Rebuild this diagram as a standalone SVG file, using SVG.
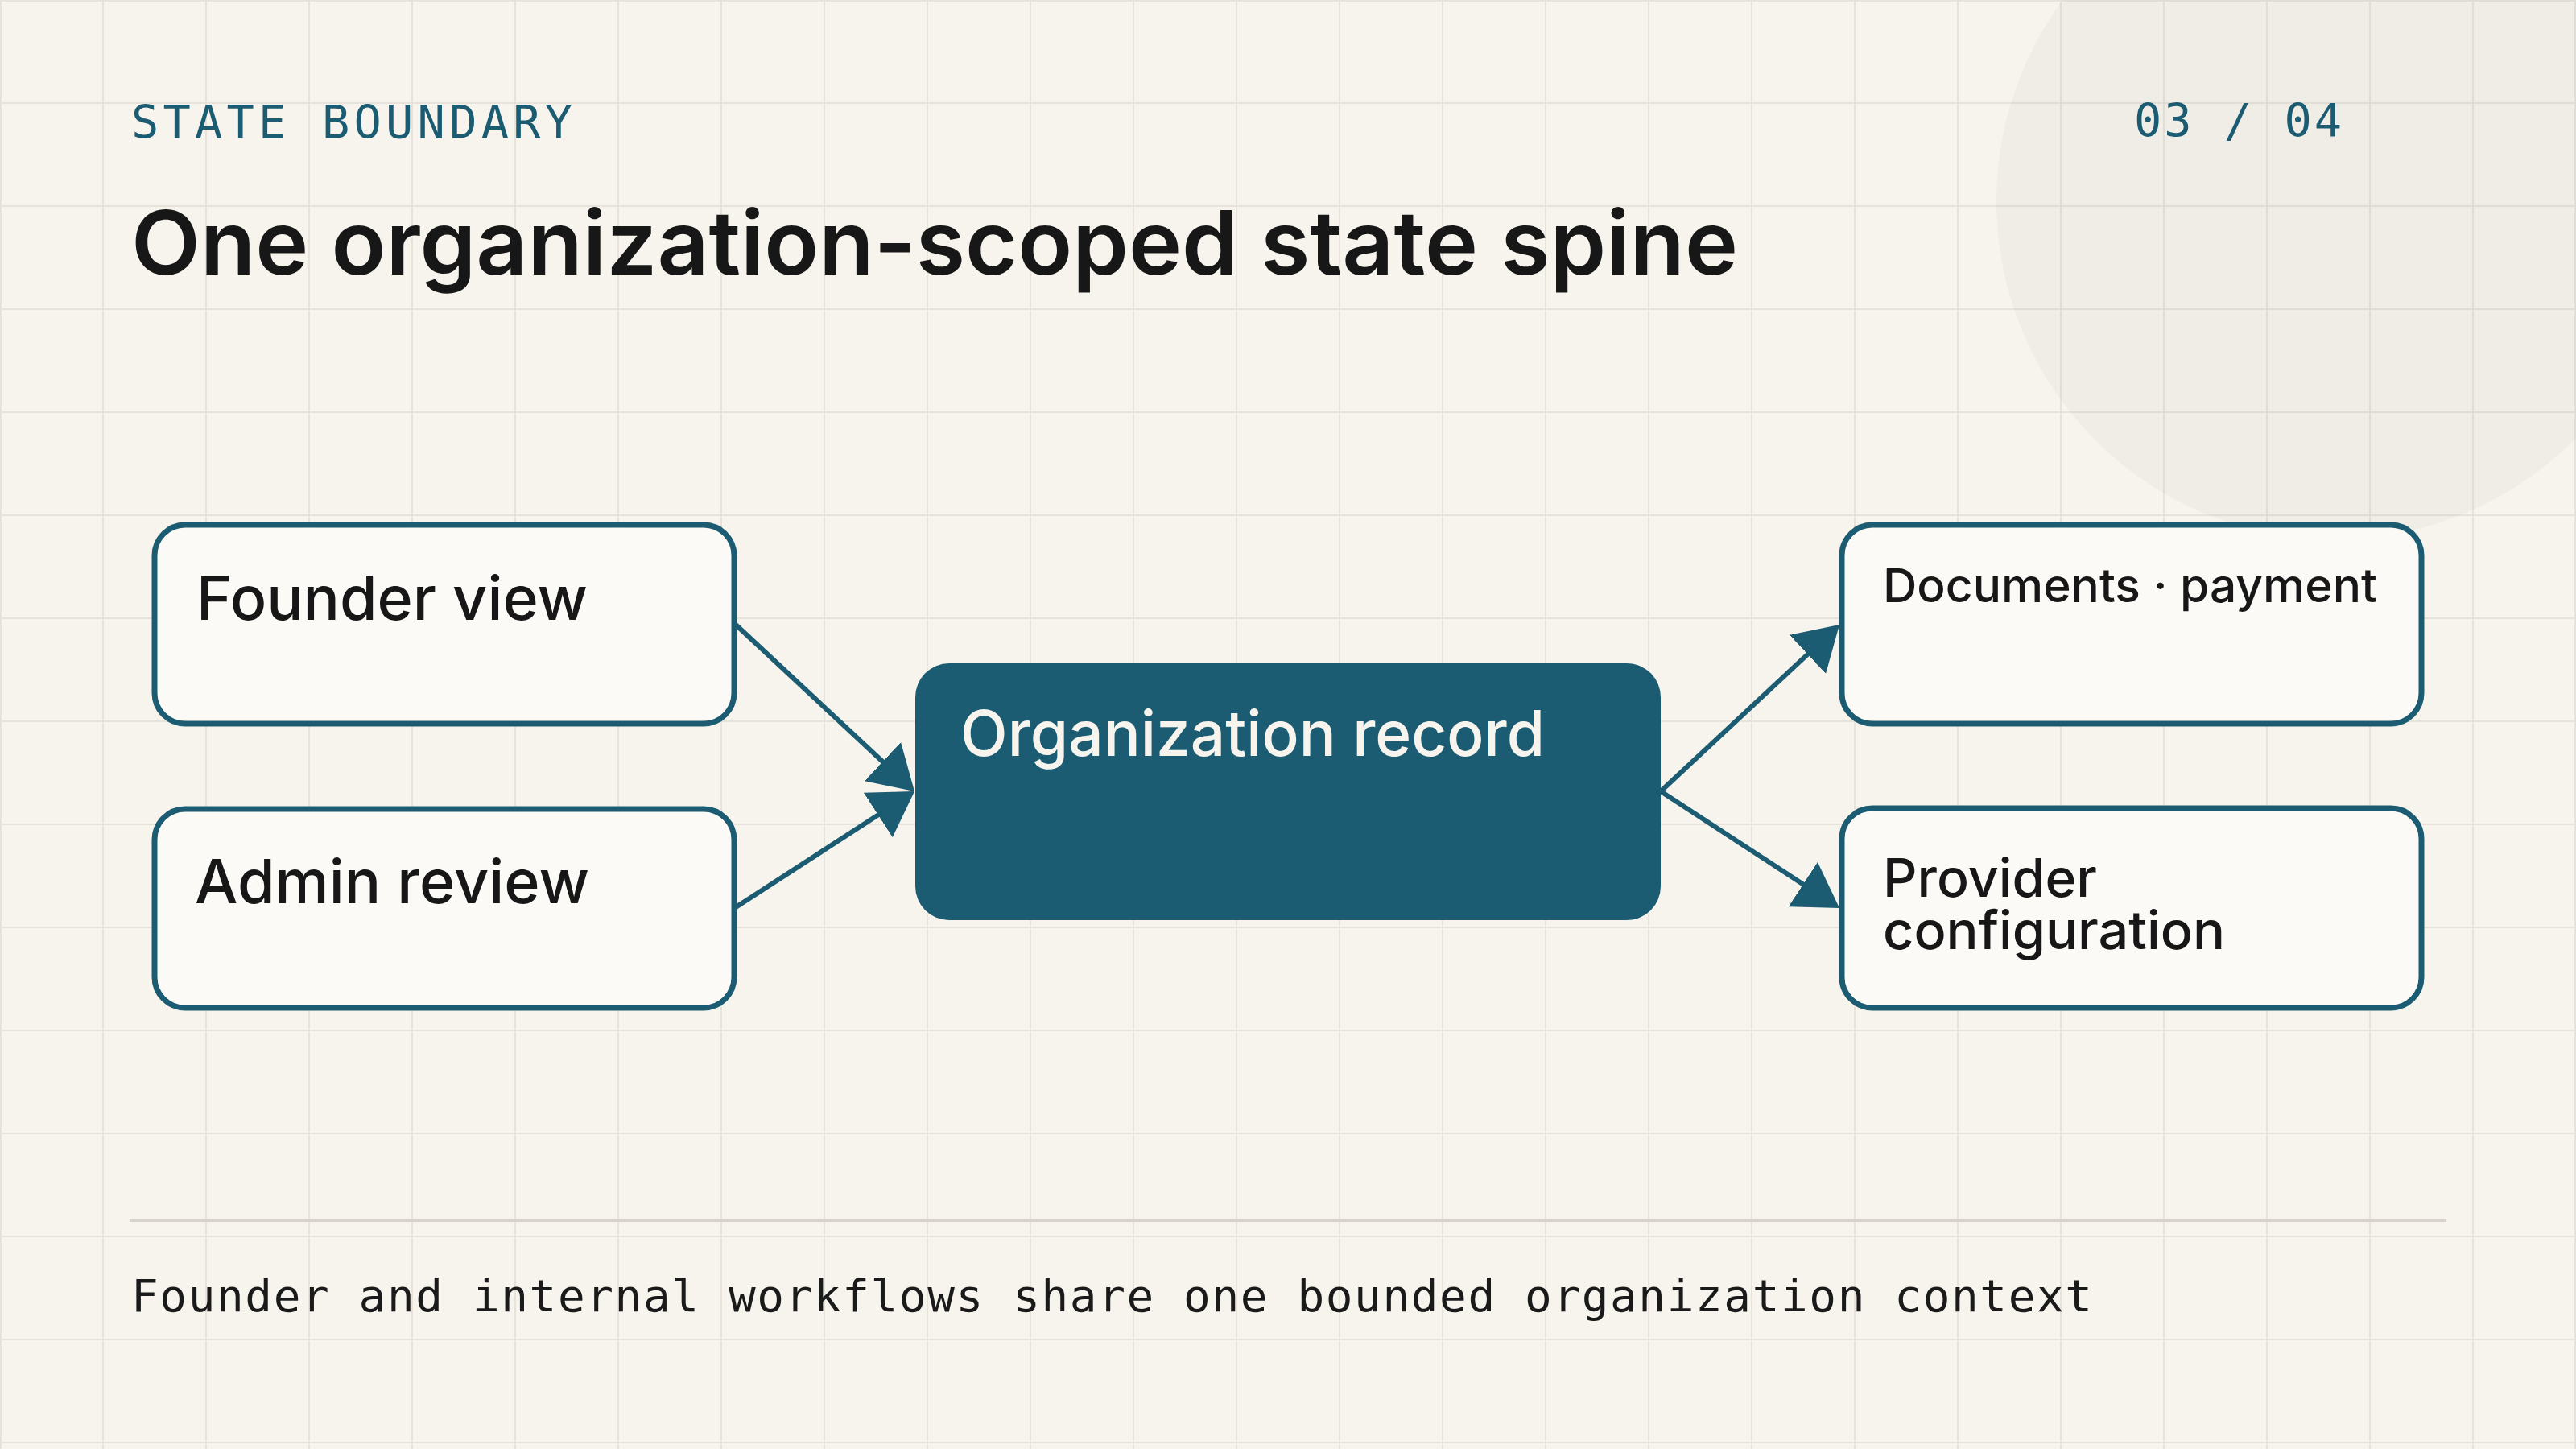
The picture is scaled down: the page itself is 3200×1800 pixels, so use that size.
<svg xmlns="http://www.w3.org/2000/svg" width="3200" height="1800" viewBox="0 0 3200 1800">
  <defs>
    <style>
      .grid { stroke: #e7e3db; stroke-width: 2; fill: none; }
      .mono { font-family: "DejaVu Sans Mono", "Liberation Mono", monospace; }
      .sans { font-family: Inter, "Noto Sans", "Liberation Sans", sans-serif; font-weight: 500; }
      .kicker { fill: #1c5c72; font-size: 57px; }
      .title { fill: #171717; font-size: 110px; font-weight: 600; }
      .node-box { fill: #fbfaf6; stroke: #1c5c72; stroke-width: 7; }
      .node-core { fill: #1c5c72; }
      .label { fill: #171717; }
      .label-inv { fill: #f7f4ee; }
      .edge { stroke: #1c5c72; stroke-width: 6; fill: none; marker-end: url(#arrow); }
      .footer { fill: #1a1a1a; font-size: 56px; }
    </style>
    <marker id="arrow" viewBox="0 0 54 66" refX="34" refY="33" markerWidth="54" markerHeight="66" markerUnits="userSpaceOnUse" orient="auto">
      <path d="M0,0 L54,33 L0,66 Z" fill="#1c5c72"/>
    </marker>
  </defs>

  <rect x="0" y="0" width="3200" height="1800" fill="#f7f4ee"/>

  <g id="grid">
    <path class="grid" d="M1 0V1800 M128 0V1800 M256 0V1800 M384 0V1800 M512 0V1800 M640 0V1800 M768 0V1800 M896 0V1800 M1024 0V1800 M1152 0V1800 M1280 0V1800 M1408 0V1800 M1536 0V1800 M1664 0V1800 M1792 0V1800 M1920 0V1800 M2048 0V1800 M2176 0V1800 M2304 0V1800 M2432 0V1800 M2560 0V1800 M2688 0V1800 M2816 0V1800 M2944 0V1800 M3072 0V1800 M3199 0V1800"/>
    <path class="grid" d="M0 1H3200 M0 128H3200 M0 256H3200 M0 384H3200 M0 512H3200 M0 640H3200 M0 768H3200 M0 896H3200 M0 1024H3200 M0 1152H3200 M0 1280H3200 M0 1408H3200 M0 1536H3200 M0 1664H3200 M0 1792H3200"/>
  </g>

  <circle id="backdrop-circle" cx="2900" cy="250" r="420" fill="#2b2b2b" fill-opacity="0.035"/>

  <g id="header">
    <text class="mono kicker" x="163" y="172" textLength="548" lengthAdjust="spacing">STATE BOUNDARY</text>
    <text class="mono kicker" x="2651" y="170" font-size="55" textLength="258" lengthAdjust="spacing">03 / 04</text>
    <text class="sans title" x="163" y="341" textLength="1996" lengthAdjust="spacingAndGlyphs">One organization-scoped state spine</text>
  </g>

  <g id="connectors">
    <line id="e-founder-org" class="edge" x1="914" y1="776" x2="1121.4" y2="969.3"/>
    <line id="e-admin-org" class="edge" x1="914" y1="1127" x2="1119.3" y2="993.9"/>
    <line id="e-org-docs" class="edge" x1="2063" y1="983" x2="2270.4" y2="789.6"/>
    <line id="e-org-provider" class="edge" x1="2063" y1="983" x2="2268.3" y2="1117.1"/>
  </g>

  <g id="node-founder">
    <rect class="node-box" x="192" y="652" width="720" height="247" rx="38"/>
    <text class="sans label" x="244" y="770" font-size="76" textLength="486" lengthAdjust="spacingAndGlyphs">Founder view</text>
  </g>

  <g id="node-admin">
    <rect class="node-box" x="192" y="1005" width="720" height="247" rx="38"/>
    <text class="sans label" x="242" y="1122" font-size="76" textLength="490" lengthAdjust="spacingAndGlyphs">Admin review</text>
  </g>

  <g id="node-org">
    <rect class="node-core" x="1137" y="824" width="926" height="319" rx="42"/>
    <text class="sans label-inv" x="1193" y="939" font-size="78" textLength="726" lengthAdjust="spacingAndGlyphs">Organization record</text>
  </g>

  <g id="node-docs">
    <rect class="node-box" x="2288" y="652" width="720" height="247" rx="38"/>
    <text class="sans label" x="2339" y="748" font-size="58" textLength="614" lengthAdjust="spacingAndGlyphs">Documents · payment</text>
  </g>

  <g id="node-provider">
    <rect class="node-box" x="2288" y="1004" width="720" height="248" rx="38"/>
    <text class="sans label" font-size="66"><tspan x="2339" y="1114" textLength="266" lengthAdjust="spacingAndGlyphs">Provider</tspan><tspan x="2339" y="1179" textLength="425" lengthAdjust="spacingAndGlyphs">configuration</tspan></text>
  </g>

  <g id="footer">
    <line x1="161" y1="1516" x2="3039" y2="1516" stroke="#d7d3cc" stroke-width="4"/>
    <text class="mono footer" x="163" y="1629" textLength="2436" lengthAdjust="spacing">Founder and internal workflows share one bounded organization context</text>
  </g>
</svg>
